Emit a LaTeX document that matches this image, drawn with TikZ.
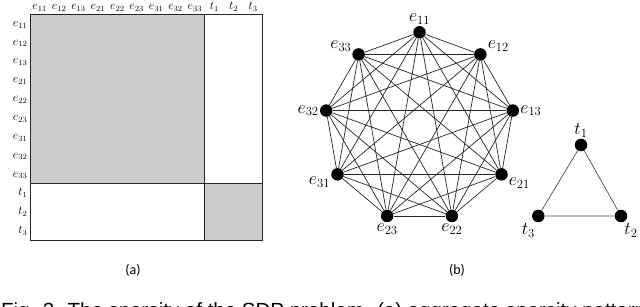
\RequirePackage{fix-cm}
\documentclass[tikz,border=0pt]{standalone}
\usepackage{fontspec}
\setmainfont{Carlito}
\newfontfamily\capfont{Liberation Sans}
\usetikzlibrary{positioning,calc}
\tikzset{
  blockfill/.style={fill=black!20, draw=none},
  grid/.style={draw=black!85, line width=0.9pt},
  lbl/.style={font=\fontsize{12}{12}\selectfont, inner sep=0pt},
  vert/.style={circle, fill=black, minimum size=12.5pt, inner sep=0pt,
               label distance=0pt},
  glbl/.style={font=\fontsize{18}{18}\selectfont, inner sep=1pt},
  edge/.style={black!85, line width=0.7pt},
  tag/.style={font=\fontsize{14}{14}\selectfont},
  % the running caption, cut by the lower page edge
  figcap/.style={font=\capfont\fontsize{20.5}{20.5}\selectfont, inner sep=0pt},
}

\begin{document}
\begin{tikzpicture}[x=1pt, y=1pt]

\useasboundingbox (0,0) rectangle (640,307);
\clip (0,0) rectangle (640,307);

\def\cw{19.4}   % cell width
\def\ch{18.85}  % cell height

%% ── (a) aggregate sparsity pattern ──────────────────────────────────────
\coordinate (tl) at (30,293);
\coordinate (mid) at (30+9*\cw,293-9*\ch);
\coordinate (br) at (30+12*\cw,293-12*\ch);
\fill[blockfill] (tl) rectangle (mid);
\fill[blockfill] (mid) rectangle (br);
\draw[grid] (tl) rectangle (br);
\draw[grid] (mid |- tl) -- (mid |- br);
\draw[grid] (mid -| tl) -- (mid -| br);

\foreach \n [count=\i] in {e_{11},e_{12},e_{13},e_{21},e_{22},e_{23},
                           e_{31},e_{32},e_{33},t_1,t_2,t_3} {
  \node[lbl, anchor=base] (col\i) at (30+\i*\cw-\cw/2,297.5) {$\n$};
  \node[lbl, anchor=base east] (row\i) at (27.5,293-\i*\ch+\ch/2-2.8) {$\n$};
}

%% ── (b) the chordal graph ───────────────────────────────────────────────
\coordinate (gc) at (419.5,180);
\foreach \n/\a/\l in {11/90/90, 12/50/15, 13/10/0, 21/-30/-20, 22/-70/-90,
                      23/-110/-90, 31/-150/190, 32/170/180, 33/130/160}
  \node[vert, label={[glbl]\l:$e_{\n}$}] (e\n) at ($(gc)+(\a:94.7)$) {};

\foreach \u [count=\i] in {11,12,13,21,22,23,31,32,33}
  \foreach \v [count=\j] in {11,12,13,21,22,23,31,32,33} {
    \ifnum\i<\j \draw[edge] (e\u) -- (e\v); \fi
  }

\node[vert, label={[glbl]above:$t_1$}] (t1) at (581,162) {};
\node[vert, label={[glbl]-70:$t_2$}] (t2) at (621,91) {};
\node[vert, label={[glbl]-110:$t_3$}] (t3) at (538.3,91) {};
\draw[edge, black!70] (t1) -- (t2) -- (t3) -- (t1);

%% ── sub-captions ─────────────────────────────────────────────────────────
\node[tag] (capa) at (133,37) {(a)};
\node[tag] (capb) at (457,37) {(b)};
\node[figcap, anchor=base west] (fig) at (1,-10.7)
  {Fig. 2. The sparsity of the SDP problem. (a) aggregate sparsity pattern};

\end{tikzpicture}
\end{document}
